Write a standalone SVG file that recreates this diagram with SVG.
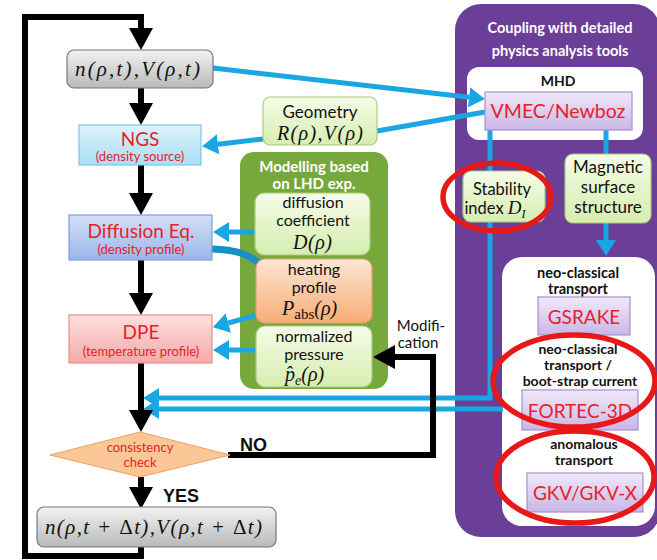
<svg xmlns="http://www.w3.org/2000/svg" width="657" height="560" viewBox="0 0 657 560">
<style>
.lbl{font-family:Lato,"Open Sans","Liberation Sans",sans-serif;text-anchor:middle;fill:#111}
.red{fill:#e8202a}
.wb{font-family:Lato,"Open Sans","Liberation Sans",sans-serif;font-weight:bold;fill:#fff;text-anchor:middle}
.bb{font-family:Lato,"Open Sans","Liberation Sans",sans-serif;font-weight:bold;fill:#111;text-anchor:middle}
.ar{font-family:"Liberation Sans",Arial,sans-serif;font-weight:bold;fill:#111}
.m{font-family:"Liberation Serif","DejaVu Serif",serif;font-style:italic;fill:#111}
.up{font-style:normal}
.box{stroke-width:1.2}
.blk{fill:none;stroke:#000;stroke-width:6}
.blu{fill:none;stroke:#1aa6e2;stroke-width:5}
.ell{fill:none;stroke:#e81818;stroke-width:5.5}
</style>
<defs>
<linearGradient id="gGray" x1="0" y1="0" x2="0" y2="1"><stop offset="0" stop-color="#f2f2f2"/><stop offset="1" stop-color="#b9b9b9"/></linearGradient>
<linearGradient id="gCyan" x1="0" y1="0" x2="0" y2="1"><stop offset="0" stop-color="#dcf3fc"/><stop offset="1" stop-color="#a9def3"/></linearGradient>
<linearGradient id="gBlue" x1="0" y1="0" x2="0" y2="1"><stop offset="0" stop-color="#d3e0f7"/><stop offset="1" stop-color="#9ab6e8"/></linearGradient>
<linearGradient id="gPink" x1="0" y1="0" x2="0" y2="1"><stop offset="0" stop-color="#fde0e0"/><stop offset="1" stop-color="#f5a8a8"/></linearGradient>
<linearGradient id="gGreen" x1="0" y1="0" x2="0" y2="1"><stop offset="0" stop-color="#f6fce8"/><stop offset="1" stop-color="#d6edb0"/></linearGradient>
<linearGradient id="gOrange" x1="0" y1="0" x2="0" y2="1"><stop offset="0" stop-color="#fde6d4"/><stop offset="1" stop-color="#f6ad76"/></linearGradient>
<linearGradient id="gLav" x1="0" y1="0" x2="0" y2="1"><stop offset="0" stop-color="#f0e9f9"/><stop offset="1" stop-color="#c9b7e6"/></linearGradient>
<marker id="ahB" markerUnits="userSpaceOnUse" markerWidth="22" markerHeight="24" viewBox="0 0 22 24" refX="0" refY="12" orient="auto"><path d="M0,0 L22,12 L0,24 Z" fill="#000"/></marker>
<marker id="ahC" markerUnits="userSpaceOnUse" markerWidth="16" markerHeight="20" viewBox="0 0 16 20" refX="0" refY="10" orient="auto"><path d="M0,0 L16,10 L0,20 Z" fill="#1aa6e2"/></marker>
</defs>

<!-- purple panel -->
<g id="coupling">
<rect x="455" y="4" width="205" height="533" rx="26" fill="#6b3e98"/>
<text class="wb" x="560" y="33" font-size="14.5">Coupling with detailed</text>
<text class="wb" x="560" y="56" font-size="14.5">physics analysis tools</text>
</g>
<g id="mhd">
<rect x="467" y="67" width="176" height="73" rx="12" fill="#fff"/>
<text class="bb" x="558" y="86" font-size="14">MHD</text>
</g>
<g id="lowerbox">
<rect x="502" y="257" width="153" height="269" rx="20" fill="#fff"/>
</g>

<!-- green panel -->
<g id="modelling">
<rect x="240" y="152" width="148" height="237" rx="14" fill="#77a83c"/>
<text class="wb" x="314" y="172" font-size="15">Modelling based</text>
<text class="wb" x="314" y="189" font-size="15">on LHD exp.</text>
</g>

<!-- blue connectors -->
<g id="connectors-blue">
<path class="blu" d="M213,68 L469,97.3" marker-end="url(#ahC)"/>
<path class="blu" d="M377,131 L485,112"/>
<path class="blu" d="M263,139 L218,144.3" marker-end="url(#ahC)"/>
<path class="blu" d="M256,232 L229,232" marker-end="url(#ahC)"/>
<path d="M212,249 C236,250 246,253 259,263" fill="none" stroke="#1a90c8" stroke-width="7"/>
<path class="blu" d="M257,315 L228.3,323" marker-end="url(#ahC)"/>
<path class="blu" d="M256,350 L229,350" marker-end="url(#ahC)"/>
<path class="blu" d="M490,130 L490,398 L159,398" marker-end="url(#ahC)"/>
<path class="blu" d="M503,409 L159,409" marker-end="url(#ahC)"/>
<path class="blu" d="M606,130 L606,155"/>
<path class="blu" d="M606,223 L606,240" marker-end="url(#ahC)"/>
</g>

<!-- black connectors -->
<g id="connectors-black">
<path class="blk" d="M141,547 L141,556 L25,556 L25,17 L141,17 L141,28" marker-end="url(#ahB)"/>
<path class="blk" d="M141,88 L141,103" marker-end="url(#ahB)"/>
<path class="blk" d="M141,165 L141,193" marker-end="url(#ahB)"/>
<path class="blk" d="M141,260 L141,293" marker-end="url(#ahB)"/>
<path class="blk" d="M141,363 L141,410" marker-end="url(#ahB)"/>
<path class="blk" d="M141,477 L141,487" marker-end="url(#ahB)"/>
<path class="blk" d="M228,455 L433,455 L433,357 L395,357" marker-end="url(#ahB)"/>
<text class="ar" x="240" y="451" font-size="18">NO</text>
<text class="ar" x="163" y="502" font-size="18">YES</text>
<text class="lbl" x="421" y="331" font-size="15">Modifi-</text>
<text class="lbl" x="418" y="348" font-size="15">cation</text>
</g>

<!-- left column -->
<g id="n-start">
<rect class="box" x="67" y="50" width="146" height="38" rx="7" fill="url(#gGray)" stroke="#777"/>
<text class="m" x="75" y="76" font-size="21" textLength="125" lengthAdjust="spacing">n(ρ,t),V(ρ,t)</text>
</g>
<g id="ngs">
<rect class="box" x="79" y="125" width="122" height="40" fill="url(#gCyan)" stroke="#7cc6e6"/>
<text class="lbl red" x="140" y="146" font-size="19">NGS</text>
<text class="lbl red" x="140" y="161" font-size="13">(density source)</text>
</g>
<g id="diffusion-eq">
<rect class="box" x="69" y="215" width="143" height="45" fill="url(#gBlue)" stroke="#7f9fd8"/>
<text class="lbl red" x="141" y="238" font-size="19">Diffusion Eq.</text>
<text class="lbl red" x="141" y="254" font-size="13">(density profile)</text>
</g>
<g id="dpe">
<rect class="box" x="69" y="315" width="143" height="48" fill="url(#gPink)" stroke="#e89090"/>
<text class="lbl red" x="141" y="339" font-size="19">DPE</text>
<text class="lbl red" x="141" y="356" font-size="13">(temperature profile)</text>
</g>
<g id="consistency">
<path d="M50,455 L140,432 L230,455 L140,477 Z" fill="#fcc796" stroke="#f0a060" stroke-width="1"/>
<text class="lbl red" x="140" y="452" font-size="13">consistency</text>
<text class="lbl red" x="140" y="467" font-size="13">check</text>
</g>
<g id="n-next">
<rect class="box" x="37" y="507" width="239" height="40" rx="7" fill="url(#gGray)" stroke="#777"/>
<text class="m" x="45" y="534" font-size="21" textLength="217" lengthAdjust="spacing">n(ρ,t + <tspan class="up">Δ</tspan>t),V(ρ,t + <tspan class="up">Δ</tspan>t)</text>
</g>

<!-- middle -->
<g id="geometry">
<rect class="box" x="263" y="97" width="114" height="48" rx="7" fill="url(#gGreen)" stroke="#a8cc78"/>
<text class="lbl" x="320" y="118" font-size="17">Geometry</text>
<text class="m" x="277" y="140" font-size="20" textLength="86" lengthAdjust="spacing">R(ρ),V(ρ)</text>
</g>
<g id="diffusion-coef">
<rect class="box" x="255" y="193" width="115" height="62" rx="9" fill="url(#gGreen)" stroke="#a8cc78"/>
<text class="lbl" x="313" y="208" font-size="16">diffusion</text>
<text class="lbl" x="313" y="226" font-size="16">coefficient</text>
<text class="m" x="293" y="249" font-size="20" textLength="39" lengthAdjust="spacing">D(ρ)</text>
</g>
<g id="heating">
<rect class="box" x="256" y="259" width="116" height="64" rx="9" fill="url(#gOrange)" stroke="#e8a070"/>
<text class="lbl" x="314" y="275" font-size="16">heating</text>
<text class="lbl" x="314" y="293" font-size="16">profile</text>
<text class="m" x="282" y="315" font-size="20">P<tspan class="up" font-size="15" dy="4">abs</tspan><tspan dy="-4">(ρ)</tspan></text>
</g>
<g id="pressure">
<rect class="box" x="256" y="326" width="116" height="61" rx="9" fill="url(#gGreen)" stroke="#a8cc78"/>
<text class="lbl" x="314" y="342" font-size="16">normalized</text>
<text class="lbl" x="314" y="360" font-size="16">pressure</text>
<text class="m" x="285" y="381" font-size="20">p̂<tspan font-size="14" dy="4">e</tspan><tspan dy="-4">(ρ)</tspan></text>
</g>

<!-- right -->
<g id="vmec">
<rect class="box" x="485" y="92" width="147" height="38" fill="url(#gLav)" stroke="#a890cc"/>
<text class="lbl red" x="558" y="118" font-size="19.5">VMEC/Newboz</text>
</g>
<g id="stability">
<rect class="box" x="463" y="171" width="82" height="51" rx="8" fill="url(#gGreen)" stroke="#a8cc78"/>
<text class="lbl" x="502" y="195" font-size="16.5">Stability</text>
<text class="lbl" x="495" y="214" font-size="16.5">index <tspan class="m" font-size="19">D</tspan><tspan class="m" font-size="12" dy="4">I</tspan></text>
<ellipse class="ell" cx="497" cy="197" rx="54" ry="34"/>
</g>
<g id="magnetic">
<rect class="box" x="565" y="154" width="86" height="69" rx="8" fill="url(#gGreen)" stroke="#a8cc78"/>
<text class="lbl" x="608" y="173" font-size="17">Magnetic</text>
<text class="lbl" x="608" y="193" font-size="17">surface</text>
<text class="lbl" x="608" y="213" font-size="17">structure</text>
</g>
<g id="gsrake">
<text class="bb" x="578" y="278" font-size="14.5">neo-classical</text>
<text class="bb" x="578" y="294" font-size="14.5">transport</text>
<rect class="box" x="538" y="297" width="92" height="38" fill="url(#gLav)" stroke="#a890cc"/>
<text class="lbl red" x="584" y="324" font-size="19">GSRAKE</text>
</g>
<g id="fortec">
<text class="bb" x="578" y="354" font-size="14">neo-classical</text>
<text class="bb" x="578" y="370" font-size="14">transport /</text>
<text class="bb" x="580" y="386" font-size="14">boot-strap current</text>
<rect class="box" x="522" y="390" width="116" height="40" fill="url(#gLav)" stroke="#a890cc"/>
<text class="lbl red" x="580" y="418" font-size="19">FORTEC-3D</text>
<ellipse class="ell" cx="574" cy="381" rx="81" ry="46"/>
</g>
<g id="gkv">
<text class="bb" x="584" y="449" font-size="14">anomalous</text>
<text class="bb" x="584" y="465" font-size="14">transport</text>
<rect class="box" x="527" y="473" width="116" height="39" fill="url(#gLav)" stroke="#a890cc"/>
<text class="lbl red" x="585" y="500" font-size="19">GKV/GKV-X</text>
<ellipse class="ell" cx="575" cy="477" rx="79" ry="46"/>
</g>
</svg>
